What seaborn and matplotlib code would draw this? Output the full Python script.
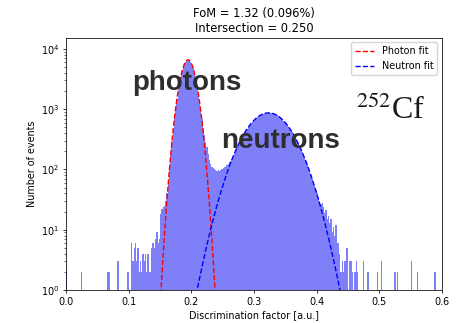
import numpy as np
import pandas as pd
import matplotlib
matplotlib.use("Agg")
import matplotlib.pyplot as plt
import seaborn as sns

# ---------------- data ----------------
bin_width = 0.002
x_range = (0.0, 0.6)
main_start = 0.140  # first edge of the dense part of the histogram
main_counts = [
    5, 7, 9, 6, 7, 18, 22, 24, 25, 30,
    40, 60, 102, 175, 292, 463, 712, 1053, 1500, 2056,
    2716, 3453, 4229, 4985, 5660, 6186, 6511, 6597, 6437, 6047,
    5470, 4764, 3996, 3227, 2509, 1879, 1353, 960, 680, 490,
    370, 290, 235, 180, 142, 122, 110, 104, 100, 97,
    95, 98, 94, 97, 100, 104, 108, 112, 118, 125,
    132, 140, 150, 170, 190, 212, 236, 261, 288, 317,
    347, 377, 409, 442, 475, 509, 543, 576, 609, 642,
    674, 704, 733, 760, 783, 806, 824, 840, 853, 862,
    867, 870, 869, 863, 855, 843, 828, 809, 789, 764,
    738, 710, 680, 649, 617, 584, 550, 515, 481, 448,
    415, 383, 352, 322, 293, 267, 241, 218, 194, 174,
    155, 137, 121, 106, 93, 81, 70, 61, 53, 46,
    40, 35, 30, 27, 28, 24, 19, 21, 15, 17,
    13, 15, 9, 11, 8, 12, 6, 6, 4, 2,
    3, 2, 3, 5, 5,
]
tail_positions = [0.001, 0.025, 0.067, 0.069, 0.083, 0.099,
                  0.105, 0.107, 0.109, 0.111, 0.113, 0.115, 0.117, 0.119, 0.121,
                  0.123, 0.125, 0.127, 0.129, 0.131, 0.133, 0.135, 0.137, 0.139,
                  0.453, 0.455, 0.457, 0.461, 0.463, 0.465,
                  0.475, 0.481, 0.483, 0.497, 0.503,
                  0.525, 0.529, 0.551, 0.561, 0.589]
tail_counts = [2, 2, 2, 2, 3, 2,
               6, 3, 5, 6, 3, 5, 2, 3, 2,
               4, 3, 4, 2, 4, 2, 2, 5, 6,
               3, 3, 2, 2, 3, 2,
               3, 2, 2, 2, 3,
               2, 2, 3, 2, 2]

# Gaussian fit parameters (amplitude, mean, sigma)
photon_fit = {"amplitude": 6600.0, "mean": 0.1947, "sigma": 0.01028}
neutron_fit = {"amplitude": 870.0, "mean": 0.3232, "sigma": 0.03096}

title_text = "FoM = 1.32 (0.096%)\nIntersection = 0.250"
x_label = "Discrimination factor [a.u.]"
y_label = "Number of events"
x_ticks = [0.0, 0.1, 0.2, 0.3, 0.4, 0.5, 0.6]
legend_labels = ["Photon fit", "Neutron fit"]

# ---------------- style ----------------
plt.rcParams.update({
    "font.size": 6.9,
    "axes.titlesize": 8.3,
    "axes.linewidth": 0.55,
    "xtick.major.size": 2.4, "ytick.major.size": 2.4,
    "xtick.minor.size": 1.4, "ytick.minor.size": 1.4,
    "xtick.major.width": 0.55, "ytick.major.width": 0.55,
    "xtick.minor.width": 0.4, "ytick.minor.width": 0.4,
    "xtick.major.pad": 2.4, "ytick.major.pad": 2.4,
    "axes.titlepad": 4.0,
    "axes.labelpad": 2.7,
    "legend.fontsize": 6.9,
    "mathtext.fontset": "stix",
})

fig = plt.figure(figsize=(4.61, 3.23), dpi=100)
ax = fig.add_axes([0.1432, 0.1022, 0.8156, 0.7817])

# histogram
centers = main_start + bin_width * (np.arange(len(main_counts)) + 0.5)
df = pd.DataFrame({
    "factor": np.concatenate([centers, np.array(tail_positions)]),
    "count": np.concatenate([np.array(main_counts, float), np.array(tail_counts, float)]),
})
sns.histplot(data=df, x="factor", weights="count", binwidth=bin_width, binrange=x_range,
             element="bars", color="#0000f0", alpha=0.5, linewidth=0, ax=ax)


def gauss(x, p):
    return p["amplitude"] * np.exp(-(x - p["mean"]) ** 2 / (2 * p["sigma"] ** 2))


xg_p = np.linspace(0.14, 0.25, 600)
xg_n = np.linspace(0.19, 0.46, 900)
sns.lineplot(x=xg_p, y=gauss(xg_p, photon_fit), color="red", linestyle="--",
             linewidth=1.0, label=legend_labels[0], ax=ax)
sns.lineplot(x=xg_n, y=gauss(xg_n, neutron_fit), color="blue", linestyle="--",
             linewidth=1.0, label=legend_labels[1], ax=ax)

ax.set_yscale("log")
ax.set_xlim(*x_range)
ax.set_ylim(1, 15500)
ax.set_xticks(x_ticks)
ax.set_xticklabels([f"{t:.1f}" for t in x_ticks])
ax.set_xlabel(x_label)
ax.set_ylabel(y_label)
ax.set_title(title_text)
ax.legend(loc="upper right")

ax.text(0.1926, 2090, "photons", ha="center", va="baseline", fontsize=20,
        fontweight="bold", family=["Liberation Sans", "DejaVu Sans"], color="#2e2e2e")
ax.text(0.3431, 227, "neutrons", ha="center", va="baseline", fontsize=20,
        fontweight="bold", family=["Liberation Sans", "DejaVu Sans"], color="#2e2e2e")
ax.text(0.4627, 689, r"$^{252}$Cf", ha="left", va="baseline", fontsize=23,
        family=["Liberation Serif", "DejaVu Serif"], color="#1a1a1a")

fig.savefig("out.png", dpi=100)
